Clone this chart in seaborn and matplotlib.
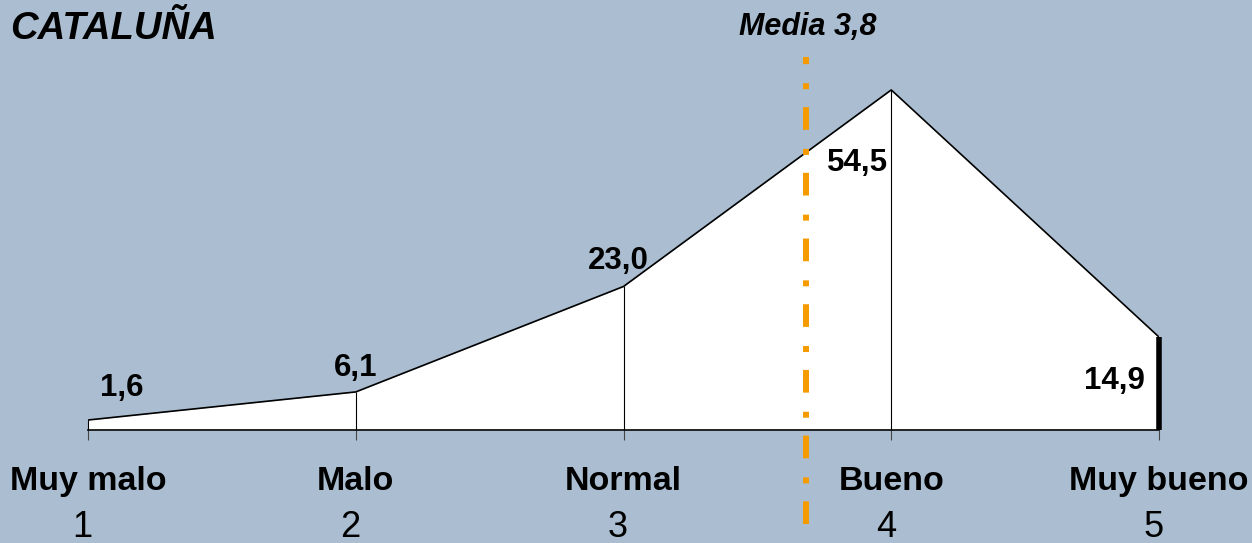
import matplotlib
matplotlib.use("Agg")
import matplotlib.pyplot as plt
import seaborn as sns
import pandas as pd

# ---- data ----
categorias = ["Muy malo", "Malo", "Normal", "Bueno", "Muy bueno"]
puntuacion = [1, 2, 3, 4, 5]
porcentaje = [1.6, 6.1, 23.0, 54.5, 14.9]
etiquetas = ["1,6", "6,1", "23,0", "54,5", "14,9"]
media_texto = "Media 3,8"
media_pos = 3.68
titulo = "CATALUÑA"

# ---- style ----
bg = "#ABBED1"
sns.set_theme(style="white", rc={"axes.facecolor": bg, "figure.facecolor": bg,
                                 "text.color": "black"})
plt.rcParams["font.family"] = ["Liberation Sans", "DejaVu Sans"]
plt.rcParams["text.color"] = "black"

W, H = 1252, 543
fig = plt.figure(figsize=(W / 100, H / 100), dpi=100)
ax = fig.add_axes([88 / W, 113 / H, (1159 - 88) / W, 374.4 / H])

df = pd.DataFrame({"x": puntuacion, "y": porcentaje})
ax.fill_between(df["x"], 0, df["y"], color="white", zorder=1, linewidth=0)
sns.lineplot(data=df, x="x", y="y", ax=ax, color="black", linewidth=1.2, zorder=3)

# vertical lines at each category
for i, (x, y) in enumerate(zip(puntuacion, porcentaje)):
    last = i == len(puntuacion) - 1
    lw = 4.0 if last else 0.8
    ax.plot([x, x], [0, y], color="black", linewidth=lw, zorder=2,
            solid_capstyle="butt", clip_on=False)

ax.set_xlim(1, 5)
ax.set_ylim(0, 60)
ax.set_xlabel("")
ax.set_ylabel("")
for s in ["top", "right", "left"]:
    ax.spines[s].set_visible(False)
ax.spines["bottom"].set_color("black")
ax.spines["bottom"].set_linewidth(1.2)
ax.spines["bottom"].set_zorder(4)
ax.set_yticks([])
ax.set_xticks(puntuacion)
ax.set_xticklabels([""] * len(puntuacion))
ax.tick_params(axis="x", direction="out", length=7, width=0.8, color="#444444", bottom=True)

# mean line
ax.plot([media_pos, media_pos], [-15.0, 59.8], color="#F59B00", linewidth=4.3,
        linestyle=(0, (3.8, 3.0, 1.0, 3.2)), clip_on=False, zorder=5)
fig.text(808 / W, 1 - 27 / H, media_texto, ha="center", va="center",
         fontsize=22, fontweight="bold", fontstyle="italic", color="black")

# value labels
offsets = [(24.5, 23), (0, 17), (-4, 18), (-24.5, -52.5), (-32, -32)]
for x, y, t, off in zip(puntuacion, porcentaje, etiquetas, offsets):
    ax.annotate(t, xy=(x, y), xytext=off, textcoords="offset points",
                ha="center", va="center", fontsize=22.5, fontweight="bold",
                color="black", zorder=6)

# category labels and numbers
for x, c in zip(puntuacion, categorias):
    ax.annotate(c, xy=(x, 53), xycoords=("data", "figure pixels"),
                ha="center", va="baseline", fontsize=24.5, fontweight="bold",
                color="black", annotation_clip=False)
    ax.annotate(str(x), xy=(x - 0.02, 6), xycoords=("data", "figure pixels"),
                ha="center", va="baseline", fontsize=26, color="black",
                annotation_clip=False)

fig.text(10 / W, 1 - 29 / H, titulo, ha="left", va="center",
         fontsize=27.5, fontweight="bold", fontstyle="italic", color="black")

fig.savefig("out.png", dpi=100, facecolor=bg)
